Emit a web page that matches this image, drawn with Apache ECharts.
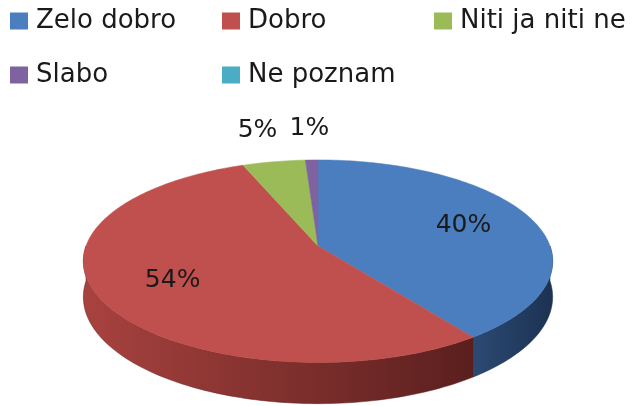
<!DOCTYPE html>
<html>
<head>
<meta charset="utf-8">
<script src="https://cdn.jsdelivr.net/npm/echarts@6/dist/echarts.min.js"></script>
<style>
  html, body { margin: 0; padding: 0; background: #fff; }
  #chart { width: 641px; height: 406px; }
</style>
</head>
<body>
<div id="chart"></div>
<script>
const categories = ["Zelo dobro", "Dobro", "Niti ja niti ne", "Slabo", "Ne poznam"];
const values = [40, 54, 5, 1, 0];
const topColors = ["#4a7ebf", "#c0504d", "#9bbb59", "#7f63a1", "#4bacc6"];
const sideColors = [["#2b4a73", "#1c3252"], ["#a8423f", "#5a1f1e"], ["#6f8a3c", "#56702c"], ["#5a4578", "#46365f"], ["#2f7f95", "#246474"]];

// pie placement: top face ellipse with a little perspective (front bigger than back)
const pie = { cx: 318, cy: 246, rx: 232, ry: 99, persp: 0.15, depth: 35 };
const FONT = "DejaVu Sans";

// t = angle clockwise from 12 o'clock, r = fraction of radius, dz = drop for the side wall
function pt(t, r, dz) {
    const u = r * Math.sin(t);
    const v = -r * Math.cos(t);
    const f = 1 / (1 - pie.persp * v);
    return [pie.cx + pie.rx * u * f, pie.cy + (pie.ry * v + dz) * f];
}

function arc(a0, a1, dz) {
    const pts = [];
    const n = Math.max(2, Math.ceil((a1 - a0) / 0.02));
    for (let k = 0; k <= n; k++) {
        pts.push(pt(a0 + (a1 - a0) * k / n, 1, dz));
    }
    return pts;
}

function renderSlice(params, api) {
    const i = params.seriesIndex;
    const v = api.value(0);
    if (!v) return;
    const total = values.reduce((a, b) => a + b, 0);
    let before = 0;
    for (let k = 0; k < i; k++) before += values[k];
    const a0 = before / total * 2 * Math.PI;
    const a1 = (before + v) / total * 2 * Math.PI;
    const children = [];

    // front wall, only the part facing the viewer
    const s0 = Math.max(a0, Math.PI / 2);
    const s1 = Math.min(a1, Math.PI * 1.5);
    if (s1 > s0) {
        const side = arc(s0, s1, 0).concat(arc(s0, s1, pie.depth).reverse());
        children.push({
            type: "polygon",
            z2: 1,
            shape: { points: side },
            style: {
                fill: new echarts.graphic.LinearGradient(1, 0, 0, 0, [
                    { offset: 0, color: sideColors[i][1] },
                    { offset: 1, color: sideColors[i][0] }
                ]),
                stroke: sideColors[i][1],
                lineWidth: 0.5
            }
        });
    }

    // top face
    const top = [pt(0, 0, 0)].concat(arc(a0, a1, 0));
    children.push({
        type: "polygon",
        z2: 10,
        shape: { points: top },
        style: { fill: topColors[i], stroke: topColors[i], lineWidth: 0.5 }
    });

    // percentage label, inside for big slices, above the rim for small ones
    const share = v / total;
    const mid = (a0 + a1) / 2;
    const r = share >= 0.1 ? 0.68 : 1.45;
    const p = pt(mid, r, 0);
    children.push({
        type: "text",
        z2: 20,
        x: p[0],
        y: p[1],
        style: {
            text: Math.round(share * 100) + "%",
            fill: "#1a1a1a",
            font: "25px '" + FONT + "'",
            align: "center",
            verticalAlign: "middle"
        }
    });

    return { type: "group", children: children };
}

function render_chart() {
    const chart = echarts.init(document.getElementById("chart"), null, { renderer: "canvas" });
    const series = categories.map((name, i) => ({
        type: "custom",
        name: name,
        coordinateSystem: "none",
        renderItem: renderSlice,
        itemStyle: { color: topColors[i] },
        data: [[values[i]]],
        silent: true
    }));
    chart.setOption({
        backgroundColor: "#ffffff",
        animation: false,
        color: topColors,
        legend: {
            left: 10,
            top: 3,
            width: 625,
            padding: 0,
            itemGap: 18,
            itemWidth: 18,
            itemHeight: 17,
            icon: "rect",
            selectedMode: false,
            data: categories,
            textStyle: {
                fontFamily: FONT,
                fontSize: 26,
                color: "#1a1a1a",
                width: 168,
                lineHeight: 36,
                padding: [0, 0, 0, 3]
            }
        },
        series: series
    });
}

window.addEventListener("load", render_chart);
</script>
</body>
</html>
